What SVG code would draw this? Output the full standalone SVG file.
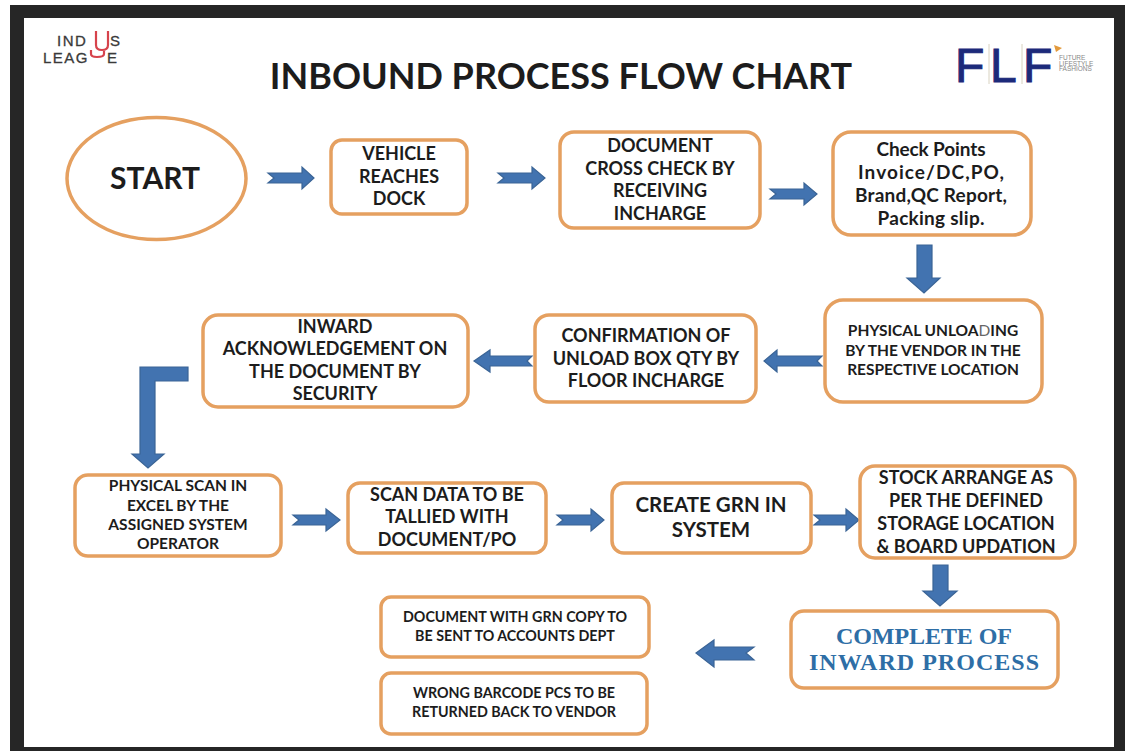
<svg xmlns="http://www.w3.org/2000/svg" width="1125" height="751" viewBox="0 0 1125 751">
<style>
.n{fill:#fff;stroke:#e5a060;stroke-width:3.5}
.t{font-family:Lato,"Liberation Sans",sans-serif;font-weight:700;fill:#1c1c1c;text-anchor:middle}
.c{font-family:"Liberation Serif",serif;font-weight:700;font-size:24px;fill:#2e6ea6;text-anchor:middle}
.a{fill:#4273b0;stroke:#3a6496;stroke-width:1.2}
.l{font-family:"Liberation Sans",sans-serif}
</style>
<rect width="1125" height="751" fill="#fff"/>
<path d="M10 5H1125V751H10Z M24 18V747H1114V18Z" fill="#262626" fill-rule="evenodd"/>
<g id="logo-indus">
<text class="l" font-size="15" letter-spacing="1.500" fill="#3a3a3a" stroke="#3a3a3a" stroke-width="0.300"><tspan x="57" y="46">IND</tspan><tspan x="110" y="46">S</tspan><tspan x="43" y="63">LEAG</tspan><tspan x="107" y="63">E</tspan></text>
<path d="M96 31V45Q96 50 102 50Q108 50 108 45V31M91 50V54Q91 57 97 57Q104 57 104 54V50" fill="none" stroke="#d6434c" stroke-width="2.200"/>
</g>
<g id="logo-flf">
<g class="l" font-size="48" fill="#1c2a7a" stroke="#1c2a7a" stroke-width="1">
<text x="955" y="82">F</text><text x="990" y="82">L</text><text x="1023" y="82">F</text></g>
<path d="M989 44V84M1022 44V84" stroke="#d8d2c0" stroke-width="1"/>
<path d="M1054 45L1062 48L1056 52Z" fill="#e39a3c"/>
<text class="l" font-size="6.500" fill="#888"><tspan x="1059" y="60">FUTURE</tspan><tspan x="1059" y="65.500">LIFESTYLE</tspan><tspan x="1059" y="71">FASHIONS</tspan></text>
</g>
<text id="title" class="t" x="561" y="89" font-size="36">INBOUND PROCESS FLOW CHART</text>
<g id="connectors">
<path class="a" d="M268 173H302V167L314 178L302 189V183H268L274 178Z"/>
<path class="a" d="M498 173H532V167L545 178L532 189V183H498L504 178Z"/>
<path class="a" d="M770 189H804V183L817 194L804 205V199H770L776 194Z"/>
<path class="a" d="M917 245H932V278H940L924 293L907 278H917Z"/>
<path class="a" d="M822 356H777V350L764 361L777 372V366H822L817 361Z"/>
<path class="a" d="M532 356H490V350L474 361L490 372V366H532L527 361Z"/>
<path class="a" d="M188 367V381H155V454H164L148 468L132 454H140V367Z"/>
<path class="a" d="M293 515H326V509L340 520L326 531V525H293L299 520Z"/>
<path class="a" d="M557 515H591V509L604 520L591 531V525H557L563 520Z"/>
<path class="a" d="M814 515H846V509L859 520L846 531V525H814L820 520Z"/>
<path class="a" d="M933 565H948V591H957L940 606L923 591H933Z"/>
<path class="a" d="M754 647H714V640L696 653L714 667V660H754L746 653Z"/>
</g>
<g id="start"><ellipse class="n" cx="156.500" cy="178.500" rx="89.500" ry="61"/><text class="t" x="155" y="189" font-size="30">START</text></g>
<g id="vehicle"><rect class="n" x="331" y="140" width="136" height="74" rx="11"/><text class="t" font-size="18"><tspan x="399" y="160">VEHICLE</tspan><tspan x="399" y="183">REACHES</tspan><tspan x="399" y="205">DOCK</tspan></text></g>
<g id="document"><rect class="n" x="560" y="132" width="200" height="96" rx="14"/><text class="t" font-size="18"><tspan x="660" y="152">DOCUMENT</tspan><tspan x="660" y="175">CROSS CHECK BY</tspan><tspan x="660" y="197">RECEIVING</tspan><tspan x="660" y="220">INCHARGE</tspan></text></g>
<g id="checkpoints"><rect class="n" x="833" y="132" width="198" height="103" rx="18"/>
<text class="t" font-size="19" x="931" y="156" textLength="109">Check Points</text>
<text class="t" font-size="19" x="931" y="179" textLength="146">Invoice/DC,PO,</text>
<text class="t" font-size="19" x="931" y="202" textLength="152">Brand,QC Report,</text>
<text class="t" font-size="19" x="931" y="225" textLength="107">Packing slip.</text></g>
<g id="unloading"><rect class="n" x="825" y="300" width="217" height="102" rx="18"/><text class="t" font-size="15.500"><tspan x="933" y="336">PHYSICAL UNLOA<tspan fill="#666" font-weight="400">D</tspan>ING</tspan><tspan x="933" y="356">BY THE VENDOR IN THE</tspan><tspan x="933" y="375">RESPECTIVE LOCATION</tspan></text></g>
<g id="confirmation"><rect class="n" x="535" y="315" width="221" height="87" rx="14"/><text class="t" font-size="18"><tspan x="646" y="342">CONFIRMATION OF</tspan><tspan x="646" y="365">UNLOAD BOX QTY BY</tspan><tspan x="646" y="387">FLOOR INCHARGE</tspan></text></g>
<g id="inward"><rect class="n" x="203" y="315" width="265" height="92" rx="15"/><text class="t" font-size="18"><tspan x="335" y="333">INWARD</tspan><tspan x="335" y="355">ACKNOWLEDGEMENT ON</tspan><tspan x="335" y="378">THE DOCUMENT BY</tspan><tspan x="335" y="400">SECURITY</tspan></text></g>
<g id="scan"><rect class="n" x="75" y="475" width="206" height="81" rx="13"/><text class="t" font-size="15.500"><tspan x="178" y="491">PHYSICAL SCAN IN</tspan><tspan x="178" y="511">EXCEL BY THE</tspan><tspan x="178" y="530">ASSIGNED SYSTEM</tspan><tspan x="178" y="549">OPERATOR</tspan></text></g>
<g id="tally"><rect class="n" x="348" y="483" width="198" height="70" rx="12"/><text class="t" font-size="18"><tspan x="447" y="501">SCAN DATA TO BE</tspan><tspan x="447" y="523">TALLIED WITH</tspan><tspan x="447" y="546">DOCUMENT/PO</tspan></text></g>
<g id="grn"><rect class="n" x="612" y="483" width="199" height="70" rx="12"/><text class="t" font-size="20.500"><tspan x="711" y="512">CREATE GRN IN</tspan><tspan x="711" y="537">SYSTEM</tspan></text></g>
<g id="stock"><rect class="n" x="860" y="466" width="215" height="92" rx="15"/><text class="t" font-size="18"><tspan x="966" y="484">STOCK ARRANGE AS</tspan><tspan x="966" y="507">PER THE DEFINED</tspan><tspan x="966" y="530">STORAGE LOCATION</tspan><tspan x="966" y="553">&amp; BOARD UPDATION</tspan></text></g>
<g id="complete"><rect class="n" x="791" y="611" width="267" height="77" rx="13"/>
<text class="c" x="924" y="644" textLength="176">COMPLETE OF</text>
<text class="c" x="924" y="670" textLength="230">INWARD PROCESS</text></g>
<g id="accounts"><rect class="n" x="381" y="597" width="268" height="60" rx="10"/><text class="t" font-size="14.300"><tspan x="515" y="622">DOCUMENT WITH GRN COPY TO</tspan><tspan x="515" y="641">BE SENT TO ACCOUNTS DEPT</tspan></text></g>
<g id="barcode"><rect class="n" x="381" y="673" width="266" height="61" rx="10"/><text class="t" font-size="14.300"><tspan x="514" y="698">WRONG BARCODE PCS TO BE</tspan><tspan x="514" y="717">RETURNED BACK TO VENDOR</tspan></text></g>
</svg>
